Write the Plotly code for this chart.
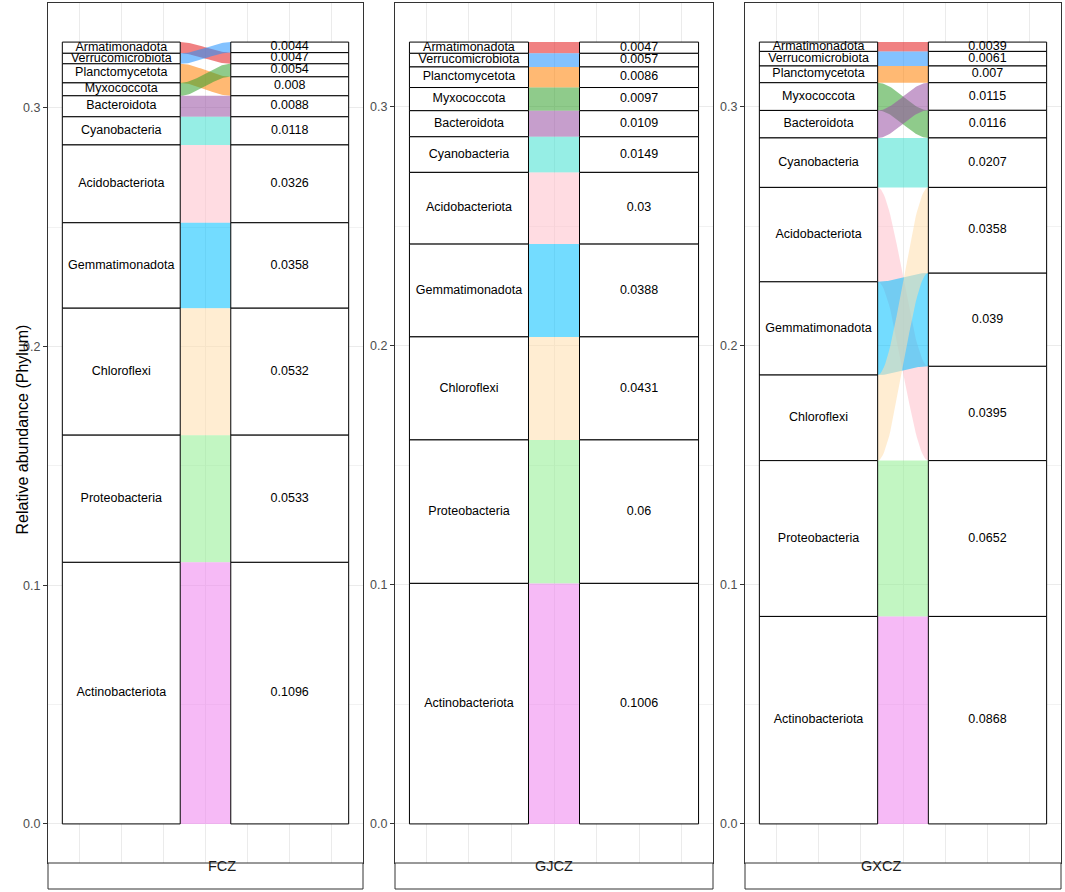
import plotly.graph_objects as go
from plotly.subplots import make_subplots

# phyla, listed top to bottom as stacked in the left column
phyla = ['Armatimonadota', 'Verrucomicrobiota', 'Planctomycetota', 'Myxococcota',
         'Bacteroidota', 'Cyanobacteria', 'Acidobacteriota', 'Gemmatimonadota',
         'Chloroflexi', 'Proteobacteria', 'Actinobacteriota']

sites = ['FCZ', 'GJCZ', 'GXCZ']

# relative abundance per site, same order as phyla
fcz = [0.0047, 0.0044, 0.008, 0.0054, 0.0088, 0.0118, 0.0326, 0.0358, 0.0532, 0.0533, 0.1096]
gjcz = [0.0047, 0.0057, 0.0086, 0.0097, 0.0109, 0.0149, 0.03, 0.0388, 0.0431, 0.06, 0.1006]
gxcz = [0.0039, 0.0061, 0.007, 0.0116, 0.0115, 0.0207, 0.0395, 0.039, 0.0358, 0.0652, 0.0868]

colors = ['#E41A1C', '#1E90FF', '#FF7F00', '#33A02C', '#984EA3', '#40E0D0',
          '#FFC0CB', '#00BFFF', '#FFDEAD', '#90EE90', '#EE82EE']

ALPHA = 0.55
W = 0.7          # stratum width
FONT = 'Liberation Sans, Arial, sans-serif'


def rgba(hex_col, a):
    h = hex_col.lstrip('#')
    r, g, b = int(h[0:2], 16), int(h[2:4], 16), int(h[4:6], 16)
    return f'rgba({r},{g},{b},{a})'


def stack_left(vals):
    # bottom of the stack is the last phylum
    pos = {}
    y = 0.0
    for i in reversed(range(len(vals))):
        pos[i] = (y, y + vals[i])
        y += vals[i]
    return pos


def stack_right(vals):
    # sorted by value: largest at the bottom
    order = sorted(range(len(vals)), key=lambda i: -vals[i])
    pos = {}
    y = 0.0
    for i in order:
        pos[i] = (y, y + vals[i])
        y += vals[i]
    return pos


def smooth(t):
    return 3 * t * t - 2 * t ** 3


fig = make_subplots(rows=1, cols=3)

panel_x = [(48, 363), (395, 713), (745, 1061)]
FW, FH = 1065, 892
panel_top, panel_bot, strip_bot = 3, 863, 889

for k, (site, vals) in enumerate(zip(sites, [fcz, gjcz, gxcz])):
    col = k + 1
    left = stack_left(vals)
    right = stack_right(vals)
    x0, x1 = 1 + W / 2, 2 - W / 2
    n = 40
    ts = [j / n for j in range(n + 1)]

    # flows
    for i, name in enumerate(phyla):
        lb, lt = left[i]
        rb, rt = right[i]
        xs_top = [x0 + t * (x1 - x0) for t in ts]
        ys_top = [lt + (rt - lt) * smooth(t) for t in ts]
        xs_bot = [x0 + t * (x1 - x0) for t in reversed(ts)]
        ys_bot = [lb + (rb - lb) * smooth(t) for t in reversed(ts)]
        fig.add_trace(go.Scatter(
            x=xs_top + xs_bot, y=ys_top + ys_bot, mode='lines', fill='toself',
            fillcolor=rgba(colors[i], ALPHA), line=dict(width=0),
            hoverinfo='skip', showlegend=False), row=1, col=col)

    # strata boxes
    for xc, pos in [(1, left), (2, right)]:
        for i in range(len(vals)):
            b, t = pos[i]
            fig.add_trace(go.Scatter(
                x=[xc - W / 2, xc + W / 2, xc + W / 2, xc - W / 2, xc - W / 2],
                y=[b, b, t, t, b], mode='lines', fill='toself', fillcolor='white',
                line=dict(color='black', width=1), hoverinfo='skip',
                showlegend=False), row=1, col=col)

    # labels
    fig.add_trace(go.Scatter(
        x=[1] * len(vals), y=[(left[i][0] + left[i][1]) / 2 for i in range(len(vals))],
        text=phyla, mode='text', textfont=dict(family=FONT, size=12.5, color='black'),
        hoverinfo='skip', showlegend=False), row=1, col=col)
    fig.add_trace(go.Scatter(
        x=[2] * len(vals), y=[(right[i][0] + right[i][1]) / 2 for i in range(len(vals))],
        text=['{:g}'.format(v) for v in vals], mode='text',
        textfont=dict(family=FONT, size=12.5, color='black'),
        hoverinfo='skip', showlegend=False), row=1, col=col)

    total = sum(vals)
    px0, px1 = panel_x[k]
    dom_x = [px0 / FW, px1 / FW]
    dom_y = [1 - panel_bot / FH, 1 - panel_top / FH]
    fig.update_xaxes(domain=dom_x, range=[0.565, 2.435], tick0=0, dtick=0.25,
                     showticklabels=False, ticks='', showgrid=True,
                     gridcolor='#EBEBEB', gridwidth=1, zeroline=False,
                     showline=True, mirror=True, linecolor='#333333', linewidth=1,
                     row=1, col=col)
    fig.update_yaxes(domain=dom_y, range=[-0.05 * total, 1.05 * total],
                     tick0=0, dtick=0.1, tickformat='.1f', ticks='outside',
                     ticklen=4, tickcolor='#333333', tickwidth=1,
                     tickfont=dict(family=FONT, size=12.5, color='#4D4D4D'),
                     showgrid=True, gridcolor='#EBEBEB', gridwidth=1,
                     minor=dict(dtick=0.05, showgrid=True, gridcolor='#F2F2F2', gridwidth=0.5),
                     zeroline=False, showline=True, mirror=True,
                     linecolor='#333333', linewidth=1, automargin=False,
                     row=1, col=col)

    # facet strip at the bottom
    fig.add_shape(type='rect', xref='paper', yref='paper',
                  x0=px0 / FW, x1=px1 / FW,
                  y0=1 - strip_bot / FH, y1=1 - panel_bot / FH,
                  line=dict(color='#333333', width=1), fillcolor='white')
    fig.add_annotation(x=(px0 + px1) / 2 / FW, y=1 - (panel_bot + strip_bot) / 2 / FH,
                       xref='paper', yref='paper', text=site, showarrow=False,
                       font=dict(family=FONT, size=14.5, color='#1A1A1A'))

fig.add_annotation(x=12 / FW, y=1 - 430 / FH, xref='paper', yref='paper',
                   text='Relative abundance (Phylum)', textangle=-90, showarrow=False,
                   font=dict(family=FONT, size=16, color='black'))

fig.update_layout(width=FW, height=FH, plot_bgcolor='white', paper_bgcolor='white',
                  margin=dict(l=0, r=0, t=0, b=0), showlegend=False)

fig.write_html('out.html', config={'displayModeBar': False},
               post_script="document.body.style.margin='0';document.body.style.overflow='hidden';")
